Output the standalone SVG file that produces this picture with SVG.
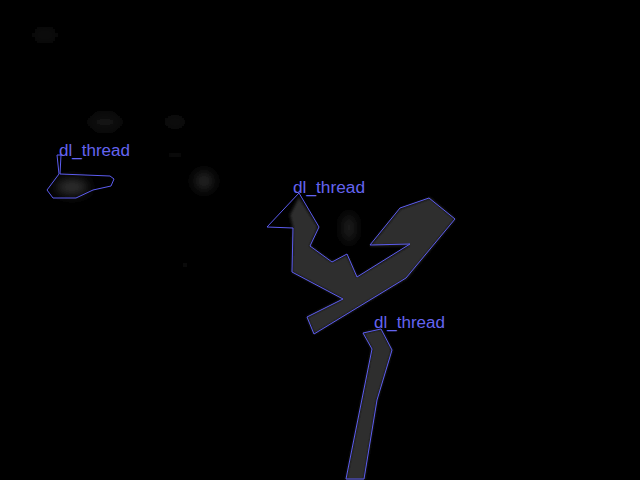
<svg xmlns="http://www.w3.org/2000/svg" width="640" height="480" viewBox="0 0 640 480">
<defs>
<style>
.ann{fill:none;stroke:#5c5cf0;stroke-width:1;stroke-linejoin:miter}
.lbl{font-family:"Liberation Sans","DejaVu Sans",sans-serif;font-size:16px;fill:#6464f0}
.thr{fill:#2e2e2e}
</style>
<filter id="b1" x="-20%" y="-20%" width="140%" height="140%"><feGaussianBlur stdDeviation="1.5"/></filter>
<filter id="b4" x="-100%" y="-100%" width="300%" height="300%"><feGaussianBlur stdDeviation="6"/></filter>
</defs>
<rect width="640" height="480" fill="#000"/>
<g id="background">
<ellipse cx="45" cy="35" rx="14" ry="5" fill="#141414" filter="url(#b4)"/>
<ellipse cx="105" cy="122" rx="16" ry="8" fill="#141414" filter="url(#b4)"/>
<ellipse cx="175" cy="122" rx="12" ry="7" fill="#111" filter="url(#b4)"/>
<ellipse cx="175" cy="155" rx="5" ry="5" fill="#121212" filter="url(#b4)"/>
<ellipse cx="204" cy="181" rx="9" ry="9" fill="#2c2c2c" filter="url(#b4)"/>
<ellipse cx="185" cy="265" rx="8" ry="4" fill="#0e0e0e" filter="url(#b4)"/>
<ellipse cx="543" cy="299" rx="7" ry="3" fill="#161616" filter="url(#b4)"/>
<ellipse cx="355" cy="117" rx="8" ry="3" fill="#0c0c0c" filter="url(#b4)"/>
<ellipse cx="349" cy="228" rx="5" ry="14" fill="#2a2a2a" filter="url(#b4)"/>
<ellipse cx="72" cy="187" rx="16" ry="7" fill="#383838" filter="url(#b4)"/>
<polygon class="thr" filter="url(#b1)" points="299,197 318,227 310,246 332,262 347,255 357,277 410,245 370,246 400,209 430,198 455,219 407,278 314,334 307,317 343,299 292,272 293,228 290,215"/>
<polygon class="thr" filter="url(#b1)" points="363,333 381,329 392,350 377,400 364,480 346,480 372,349"/>
</g>
<g id="node1">
<polygon class="ann" points="60,174 61,155 57,155 59,174 47,190 53,198 76,198 93,190 111,186 114,179 110,176"/>
<text class="lbl" x="59" y="156" textLength="71" lengthAdjust="spacingAndGlyphs">dl_thread</text>
</g>
<g id="node2">
<polygon class="ann" points="299,193 319,227 310,246 332,262 347,254 357,277 410,244 370,245 400,208 429,198 455,219 406,278 314,334 307,317 343,299 292,272 293,228 267,227"/>
<text class="lbl" x="293" y="193" textLength="72" lengthAdjust="spacingAndGlyphs">dl_thread</text>
</g>
<g id="node3">
<polygon class="ann" points="363,333 381,329 392,350 377,400 364,479 346,479 372,349"/>
<text class="lbl" x="374" y="328" textLength="71" lengthAdjust="spacingAndGlyphs">dl_thread</text>
</g>
<g id="connectors"/>
</svg>
